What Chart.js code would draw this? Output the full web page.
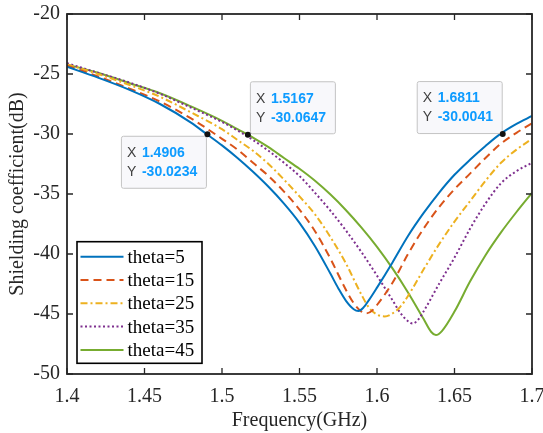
<!DOCTYPE html>
<html>
<head>
<meta charset="utf-8">
<script src="https://cdn.jsdelivr.net/npm/chart.js@4.4.0/dist/chart.umd.min.js"></script>
<style>
  html, body { margin: 0; padding: 0; background: #fff; }
</style>
</head>
<body>
<canvas id="chart" width="543" height="433"></canvas>
<script>
/***** Data *****/
let SERIES_NAMES = ["theta=5", "theta=15", "theta=25", "theta=35", "theta=45"];

let FREQ_5  = [1.40,1.42,1.44,1.46,1.48,1.49,1.50,1.51,1.52,1.53,1.54,1.55,1.56,1.57,1.575,1.58,1.585,1.588,1.591,1.595,1.60,1.61,1.62,1.63,1.64,1.65,1.66,1.67,1.68,1.69,1.70];
let SC_5    = [-24.4,-25.3,-26.3,-27.5,-29.05,-30.0,-30.95,-32.0,-33.15,-34.4,-35.8,-37.4,-39.35,-41.65,-42.85,-43.9,-44.6,-44.75,-44.5,-43.8,-42.8,-40.7,-38.5,-36.6,-34.9,-33.4,-32.15,-31.0,-29.95,-29.15,-28.5];

let FREQ_15 = [1.40,1.42,1.44,1.46,1.48,1.50,1.51,1.52,1.53,1.54,1.55,1.56,1.57,1.58,1.585,1.59,1.593,1.597,1.60,1.61,1.62,1.63,1.64,1.65,1.66,1.67,1.68,1.69,1.70];
let SC_15   = [-24.3,-25.2,-26.2,-27.3,-28.7,-30.4,-31.3,-32.4,-33.5,-34.8,-36.3,-38.1,-40.4,-43.0,-44.1,-44.8,-44.95,-44.7,-44.25,-42.4,-40.0,-37.9,-36.1,-34.6,-33.3,-32.0,-30.8,-29.9,-29.1];

let FREQ_25 = [1.40,1.42,1.44,1.46,1.48,1.50,1.51,1.52,1.53,1.54,1.55,1.56,1.57,1.58,1.59,1.595,1.60,1.605,1.61,1.615,1.62,1.63,1.64,1.65,1.66,1.67,1.68,1.69,1.70];
let SC_25   = [-24.2,-25.0,-25.9,-26.9,-28.2,-29.6,-30.5,-31.4,-32.5,-33.8,-35.2,-36.7,-38.6,-40.8,-43.4,-44.5,-45.05,-45.2,-44.95,-44.4,-43.5,-41.3,-39.2,-37.3,-35.6,-33.9,-32.4,-31.3,-30.4];

let FREQ_35 = [1.40,1.42,1.44,1.46,1.48,1.50,1.51,1.52,1.53,1.54,1.55,1.56,1.57,1.58,1.59,1.60,1.61,1.615,1.62,1.623,1.627,1.63,1.64,1.65,1.66,1.67,1.68,1.69,1.70];
let SC_35   = [-24.1,-24.9,-25.7,-26.65,-27.8,-29.0,-29.7,-30.5,-31.4,-32.4,-33.5,-34.9,-36.4,-38.05,-39.85,-41.8,-43.85,-44.9,-45.6,-45.8,-45.4,-44.8,-42.5,-40.3,-37.9,-35.8,-34.1,-33.1,-32.4];

let FREQ_45 = [1.40,1.42,1.44,1.46,1.48,1.50,1.51,1.52,1.53,1.54,1.55,1.56,1.57,1.58,1.59,1.60,1.61,1.62,1.63,1.635,1.638,1.642,1.65,1.66,1.67,1.68,1.69,1.70];
let SC_45   = [-24.2,-24.9,-25.75,-26.6,-27.7,-28.9,-29.6,-30.3,-31.1,-32.0,-32.9,-33.9,-35.05,-36.35,-37.8,-39.4,-41.2,-43.2,-45.4,-46.5,-46.75,-46.4,-44.8,-42.3,-40.1,-38.2,-36.5,-34.9];

let X_TICKS = [1.4, 1.45, 1.5, 1.55, 1.6, 1.65, 1.7];
let X_TICK_LABELS = ["1.4", "1.45", "1.5", "1.55", "1.6", "1.65", "1.7"];
let Y_TICKS = [-50, -45, -40, -35, -30, -25, -20];
let Y_TICK_LABELS = ["-50", "-45", "-40", "-35", "-30", "-25", "-20"];

//Data tips
let TIP_X = [1.4906, 1.5167, 1.6811];
let TIP_Y = [-30.0234, -30.0647, -30.0041];
let TIP_CORNER = ["topRight", "bottomLeft", "bottomRight"]; //box corner that touches the point

/***** Chart *****/
function toPoints(xs, ys) {
    let arr = [];
    for (let i = 0; i < xs.length; i++) arr.push({x: xs[i], y: ys[i]});
    return arr;
}

let SERIF = "'Liberation Serif', 'Times New Roman', serif";
let SANS = "'Liberation Sans', Arial, sans-serif";
let AXIS_COLOR = "#262626";

let styles = [
    {color: "#0072BD", dash: []},
    {color: "#D95319", dash: [8, 5]},
    {color: "#EDB120", dash: [7, 3, 2, 3]},
    {color: "#7E2F8E", dash: [2, 2.5]},
    {color: "#77AC30", dash: []}
];
let allX = [FREQ_5, FREQ_15, FREQ_25, FREQ_35, FREQ_45];
let allY = [SC_5, SC_15, SC_25, SC_35, SC_45];

let datasets = SERIES_NAMES.map(function (name, i) {
    return {
        label: name,
        data: toPoints(allX[i], allY[i]),
        borderColor: styles[i].color,
        backgroundColor: styles[i].color,
        borderDash: styles[i].dash,
        borderWidth: 2,
        pointRadius: 0,
        fill: false,
        cubicInterpolationMode: "monotone"
    };
});

let matlabLook = {
    id: "matlabLook",
    afterDatasetsDraw: function (chart) {
        let ctx = chart.ctx, a = chart.chartArea;
        let xs = chart.scales.x, ys = chart.scales.y;
        ctx.save();
        //Ticks inside on all four sides
        ctx.strokeStyle = AXIS_COLOR;
        ctx.lineWidth = 1.3;
        ctx.beginPath();
        X_TICKS.forEach(function (v) {
            let p = xs.getPixelForValue(v);
            ctx.moveTo(p, a.bottom); ctx.lineTo(p, a.bottom - 6);
            ctx.moveTo(p, a.top); ctx.lineTo(p, a.top + 6);
        });
        Y_TICKS.forEach(function (v) {
            let p = ys.getPixelForValue(v);
            ctx.moveTo(a.left, p); ctx.lineTo(a.left + 6, p);
            ctx.moveTo(a.right, p); ctx.lineTo(a.right - 6, p);
        });
        ctx.stroke();
        //Box
        ctx.lineWidth = 1.8;
        ctx.strokeRect(a.left, a.top, a.right - a.left, a.bottom - a.top);

        //Legend
        let lw = 125, lh = 121.6;
        let lx = a.left + 10, ly = a.bottom - 10.7 - lh;
        ctx.fillStyle = "#fff";
        ctx.fillRect(lx, ly, lw, lh);
        ctx.strokeStyle = "#000";
        ctx.lineWidth = 1.6;
        ctx.strokeRect(lx, ly, lw, lh);
        ctx.font = "19px " + SERIF;
        ctx.textBaseline = "middle";
        ctx.textAlign = "left";
        chart.data.datasets.forEach(function (ds, i) {
            let ry = ly + 15 + i * 23.3;
            ctx.strokeStyle = ds.borderColor;
            ctx.lineWidth = 2;
            ctx.setLineDash(ds.borderDash);
            ctx.beginPath();
            ctx.moveTo(lx + 3.5, ry);
            ctx.lineTo(lx + 46.5, ry);
            ctx.stroke();
            ctx.setLineDash([]);
            ctx.fillStyle = "#000";
            ctx.fillText(ds.label, lx + 50.5, ry + 1);
        });

        //Data tips
        let bw = 85, bh = 52;
        TIP_X.forEach(function (tx, i) {
            let px = xs.getPixelForValue(tx), py = ys.getPixelForValue(TIP_Y[i]);
            let bx, by;
            if (TIP_CORNER[i] == "topRight") { bx = px - 1.5 - bw; by = py + 1.5; }
            else if (TIP_CORNER[i] == "bottomLeft") { bx = px + 2; by = py - 1.5 - bh; }
            else { bx = px - 1 - bw; by = py - 1 - bh; }
            ctx.fillStyle = "#f8f8fb";
            ctx.strokeStyle = "#c4c4c4";
            ctx.lineWidth = 1;
            ctx.beginPath();
            ctx.roundRect(bx + 0.5, by + 0.5, bw, bh, 2);
            ctx.fill();
            ctx.stroke();
            ctx.textBaseline = "middle";
            ctx.font = "14px " + SANS;
            ctx.fillStyle = "#404040";
            ctx.fillText("X", bx + 6, by + 17.5);
            ctx.fillText("Y", bx + 6, by + 36.5);
            ctx.font = "bold 14px " + SANS;
            ctx.fillStyle = "#0d9bff";
            ctx.fillText(tx.toFixed(4), bx + 21, by + 17.5);
            ctx.fillText(TIP_Y[i].toFixed(4), bx + 21, by + 36.5);
            //Marker
            ctx.fillStyle = "#111";
            ctx.beginPath();
            ctx.arc(px, py, 3, 0, Math.PI * 2);
            ctx.fill();
        });
        ctx.restore();
    }
};

new Chart(document.getElementById("chart"), {
    type: "line",
    data: {datasets: datasets},
    options: {
        responsive: false,
        animation: false,
        devicePixelRatio: 1,
        layout: {padding: {top: 14, right: 11, bottom: 0, left: 0}},
        plugins: {
            legend: {display: false},
            tooltip: {enabled: false}
        },
        scales: {
            x: {
                type: "linear",
                min: 1.4,
                max: 1.7,
                grid: {display: false, drawTicks: false},
                border: {display: false},
                afterBuildTicks: function (s) { s.ticks = X_TICKS.map(function (v) { return {value: v}; }); },
                afterFit: function (s) { s.height = 59; s.paddingLeft = 0; s.paddingRight = 0; },
                ticks: {
                    padding: 11,
                    maxRotation: 0,
                    autoSkip: false,
                    color: AXIS_COLOR,
                    font: {family: SERIF, size: 20},
                    callback: function (v, i) { return X_TICK_LABELS[i]; }
                },
                title: {
                    display: true,
                    text: "Frequency(GHz)",
                    color: AXIS_COLOR,
                    font: {family: SERIF, size: 20},
                    padding: {top: 0, bottom: 0}
                }
            },
            y: {
                type: "linear",
                min: -50,
                max: -20,
                grid: {display: false, drawTicks: false},
                border: {display: false},
                afterBuildTicks: function (s) { s.ticks = Y_TICKS.map(function (v) { return {value: v}; }); },
                afterFit: function (s) { s.width = 67; s.paddingTop = 0; s.paddingBottom = 0; },
                ticks: {
                    padding: 7,
                    autoSkip: false,
                    color: AXIS_COLOR,
                    font: {family: SERIF, size: 20},
                    callback: function (v, i) { return Y_TICK_LABELS[i]; }
                },
                title: {
                    display: true,
                    text: "Shielding coefficient(dB)",
                    color: AXIS_COLOR,
                    font: {family: SERIF, size: 20},
                    padding: {top: 6, bottom: 0}
                }
            }
        }
    },
    plugins: [matlabLook]
});
</script>
</body>
</html>
